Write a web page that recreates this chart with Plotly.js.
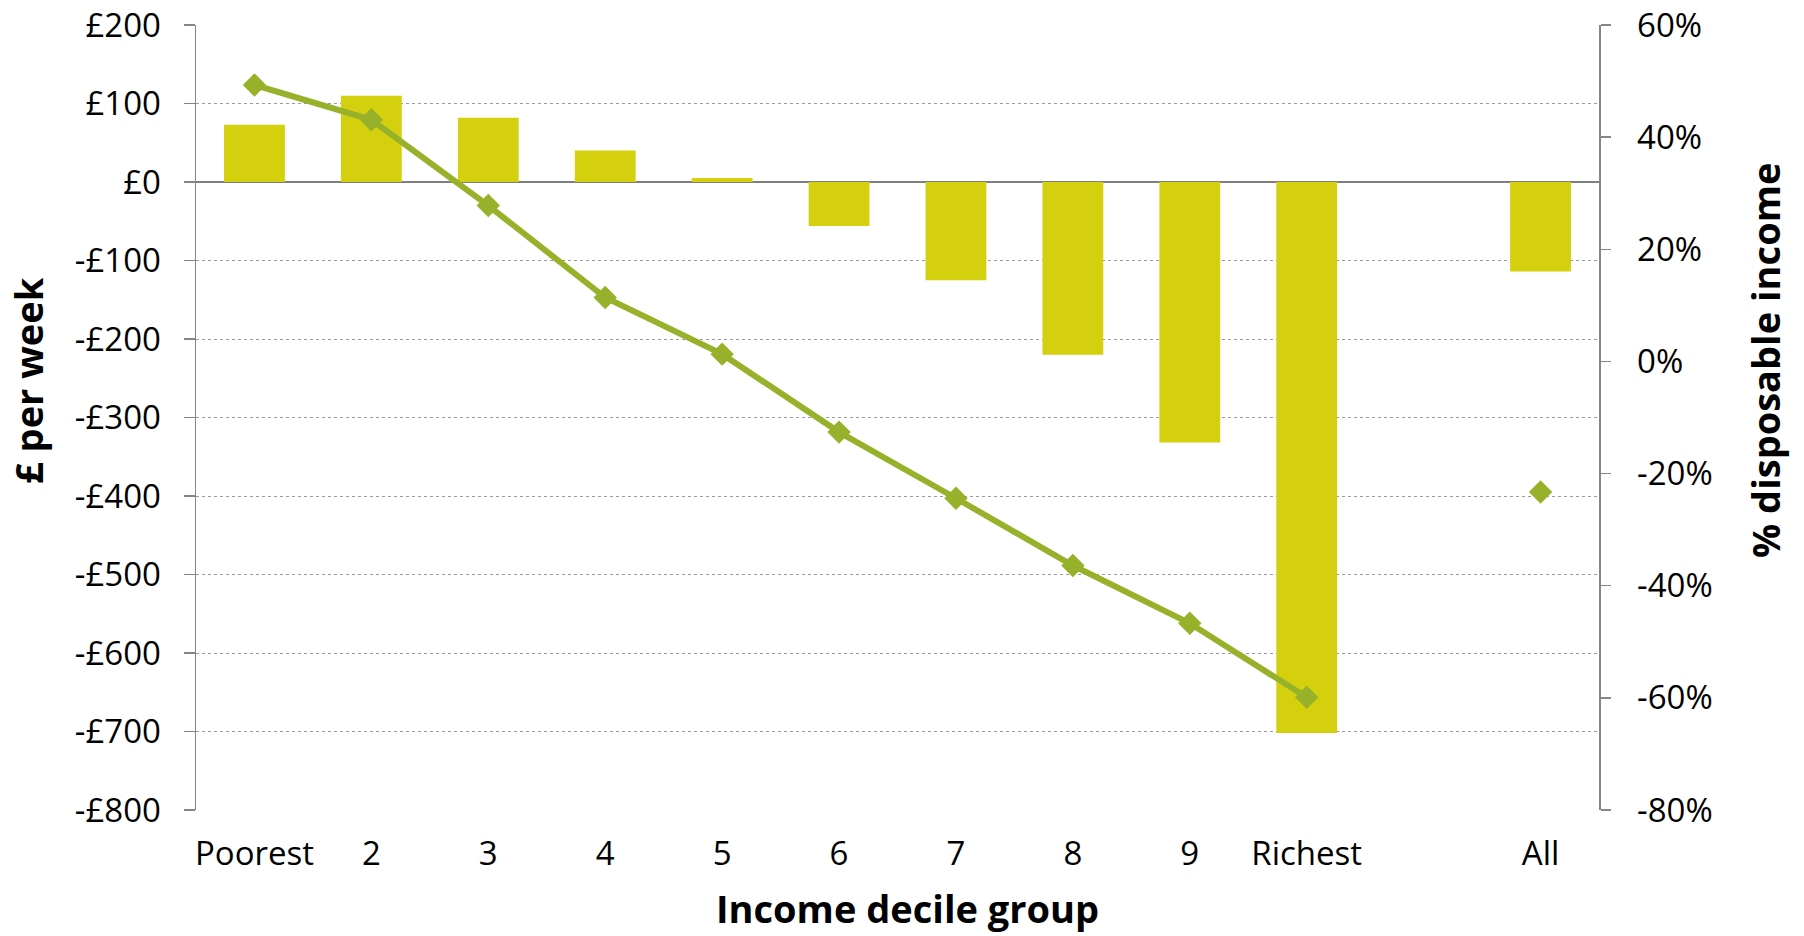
<!DOCTYPE html>
<html>
<head>
<meta charset="utf-8">
<script src="https://cdn.plot.ly/plotly-3.0.1.min.js"></script>
<style>
  html, body { margin: 0; padding: 0; background: #ffffff; }
  #chart { width: 1804px; height: 936px; }
</style>
</head>
<body>
<div id="chart"></div>
<script>
// ---- Data ----
const deciles = ["Poorest", "2", "3", "4", "5", "6", "7", "8", "9", "Richest"];
const allLabel = "All";
const poundsPerWeek = [73, 110, 82, 40, 5, -56, -125, -220, -332, -702];
const poundsPerWeekAll = -114;
const pctDisposable = [49.3, 43.1, 27.8, 11.4, 1.3, -12.6, -24.4, -36.4, -46.7, -59.9];
const pctDisposableAll = -23.3;

const leftTickVals = [200, 100, 0, -100, -200, -300, -400, -500, -600, -700, -800];
const leftTickText = ["£200", "£100", "£0", "-£100", "-£200", "-£300", "-£400", "-£500", "-£600", "-£700", "-£800"];
const rightTickVals = [60, 40, 20, 0, -20, -40, -60, -80];
const rightTickText = ["60%", "40%", "20%", "0%", "-20%", "-40%", "-60%", "-80%"];

const xTitle = "Income decile group";
const leftTitle = "£ per week";
const rightTitle = "% disposable income";

const leftRange = [-800, 200];
const rightRange = [-80, 60];

// ---- Positions on the category axis ----
const decileX = deciles.map((d, i) => i);
const allX = deciles.length + 1;            // one empty slot before "All"
const xTickVals = decileX.concat([allX]);
const xTickText = deciles.concat([allLabel]);
const xRange = [-0.5, allX + 0.5];
const dividerVals = [];
for (let v = xRange[0]; v <= xRange[1] + 1e-9; v += 1) dividerVals.push(v);

const barColor = "#d4d00e";
const lineColor = "#97b22a";
const axisGrey = "#868686";
const font = "Open Sans, Noto Sans, DejaVu Sans, sans-serif";
const tickSize = 33;
const titleSize = 38;

// plot area in pixels
const W = 1804, H = 936;
const M = { l: 196, r: 205, t: 25, b: 126 };
const plotW = W - M.l - M.r, plotH = H - M.t - M.b;
const px2x = px => (px - M.l) / plotW;
const px2y = py => (H - M.b - py) / plotH;

const traces = [
  {
    type: "bar",
    x: decileX.concat([allX]),
    y: poundsPerWeek.concat([poundsPerWeekAll]),
    marker: { color: barColor, line: { width: 0 } },
    width: 0.52,
    xaxis: "x", yaxis: "y",
    showlegend: false
  },
  {
    type: "scatter",
    mode: "lines+markers",
    x: decileX,
    y: pctDisposable,
    line: { color: lineColor, width: 6 },
    marker: { symbol: "diamond", size: 18, color: lineColor },
    xaxis: "x", yaxis: "y2",
    showlegend: false
  },
  {
    type: "scatter",
    mode: "markers",
    x: [allX],
    y: [pctDisposableAll],
    marker: { symbol: "diamond", size: 18, color: lineColor },
    xaxis: "x", yaxis: "y2",
    showlegend: false
  }
];

const zeroPos = (0 - leftRange[0]) / (leftRange[1] - leftRange[0]);
const titleFont = { family: font, size: titleSize, color: "#000000" };

const layout = {
  width: W,
  height: H,
  paper_bgcolor: "#ffffff",
  plot_bgcolor: "#ffffff",
  margin: M,
  font: { family: font, size: tickSize, color: "#000000" },
  showlegend: false,
  xaxis: {
    range: xRange,
    tickmode: "array",
    tickvals: xTickVals,
    ticktext: xTickText,
    ticks: "",
    showline: false,
    showgrid: false,
    zeroline: false,
    ticklabelstandoff: 21,
    tickfont: { family: font, size: tickSize, color: "#000000" },
    fixedrange: true
  },
  xaxis2: {
    overlaying: "x",
    anchor: "free",
    position: zeroPos,
    side: "bottom",
    range: xRange,
    tickmode: "array",
    tickvals: dividerVals,
    ticks: "outside",
    ticklen: 11,
    tickwidth: 1.5,
    tickcolor: axisGrey,
    showticklabels: false,
    showline: false,
    showgrid: false,
    zeroline: false
  },
  yaxis: {
    range: leftRange,
    tickmode: "array",
    tickvals: leftTickVals,
    ticktext: leftTickText,
    ticks: "outside",
    ticklen: 11,
    tickwidth: 1.5,
    tickcolor: axisGrey,
    ticklabelstandoff: 16,
    showline: true,
    linecolor: axisGrey,
    linewidth: 1.5,
    showgrid: true,
    gridcolor: "#9a9a9a",
    griddash: "dot",
    gridwidth: 1,
    zeroline: true,
    zerolinecolor: "#7f7f7f",
    zerolinewidth: 2,
    tickfont: { family: font, size: tickSize, color: "#000000" },
    fixedrange: true
  },
  yaxis2: {
    overlaying: "y",
    side: "right",
    range: rightRange,
    tickmode: "array",
    tickvals: rightTickVals,
    ticktext: rightTickText,
    ticks: "outside",
    ticklen: 10,
    tickwidth: 1.5,
    tickcolor: axisGrey,
    ticklabelstandoff: 20,
    showline: true,
    linecolor: axisGrey,
    linewidth: 1.5,
    showgrid: false,
    zeroline: false,
    tickfont: { family: font, size: tickSize, color: "#000000" },
    fixedrange: true
  },
  annotations: [
    {
      text: "<b>" + xTitle + "</b>", font: titleFont, showarrow: false,
      xref: "paper", yref: "paper", x: px2x(907), y: px2y(908),
      xanchor: "center", yanchor: "middle"
    },
    {
      text: "<b>" + leftTitle + "</b>", font: titleFont, showarrow: false, textangle: -90,
      xref: "paper", yref: "paper", x: px2x(28), y: px2y(381),
      xanchor: "center", yanchor: "middle"
    },
    {
      text: "<b>" + rightTitle + "</b>", font: titleFont, showarrow: false, textangle: -90,
      xref: "paper", yref: "paper", x: px2x(1765), y: px2y(361),
      xanchor: "center", yanchor: "middle"
    }
  ]
};

Plotly.newPlot("chart", traces, layout, { displayModeBar: false, staticPlot: true });
</script>
</body>
</html>
